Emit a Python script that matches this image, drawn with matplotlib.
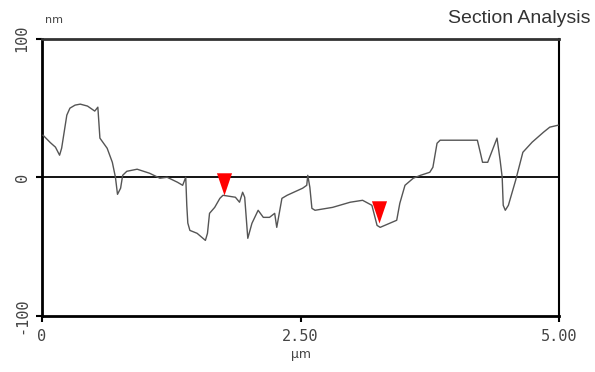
import matplotlib
matplotlib.use("Agg")
import matplotlib.pyplot as plt

# section profile (µm, nm)
pos_um = [0.01, 0.08, 0.13, 0.17, 0.19, 0.24, 0.27, 0.32, 0.37, 0.44, 0.51, 0.54,
          0.56, 0.63, 0.68, 0.71, 0.73, 0.76, 0.78, 0.82, 0.92, 1.04, 1.14, 1.21,
          1.31, 1.36, 1.39, 1.40, 1.41, 1.43, 1.50, 1.58, 1.60, 1.62, 1.67, 1.72,
          1.75, 1.87, 1.91, 1.94, 1.96, 1.99, 2.03, 2.09, 2.14, 2.20, 2.25, 2.27,
          2.32, 2.37, 2.52, 2.56, 2.57, 2.59, 2.61, 2.64, 2.81, 2.98, 3.10, 3.19,
          3.24, 3.27, 3.43, 3.46, 3.51, 3.59, 3.66, 3.75, 3.78, 3.82, 3.85, 4.21,
          4.24, 4.26, 4.31, 4.40, 4.43, 4.45, 4.46, 4.48, 4.51, 4.58, 4.65, 4.74,
          4.85, 4.91, 4.99]
height_nm = [30.3, 25.0, 21.7, 15.9, 21.0, 44.8, 49.8, 52.0, 52.7, 51.3, 47.7, 50.5,
             28.2, 20.9, 10.8, 0.0, -12.3, -7.9, 1.4, 4.3, 5.8, 2.9, -0.7, 0.0,
             -3.6, -5.8, 0.0, -20.2, -33.0, -38.3, -40.4, -45.5, -40.4, -26.0, -21.7, -15.2,
             -13.0, -14.4, -18.0, -10.8, -14.4, -44.0, -33.2, -23.8, -28.9, -28.9, -26.0, -36.1,
             -15.2, -13.0, -7.9, -5.8, 1.4, -7.2, -22.4, -23.8, -21.7, -18.0, -16.6, -20.2,
             -34.7, -36.1, -31.0, -18.8, -5.8, -0.7, 1.4, 3.6, 7.2, 24.5, 26.7, 26.7,
             17.3, 10.8, 10.8, 28.2, 12.3, 0.0, -20.2, -23.8, -20.2, -2.2, 18.0, 25.3,
             32.5, 36.1, 37.5]

# cursor markers (tip sits on the profile)
cursor_um = [1.76, 3.26]
cursor_nm = [-13.0, -33.0]

x_ticks = [0, 2.5, 5.0]
x_labels = ["0", "2.50", "5.00"]
y_ticks = [-100, 0, 100]
y_labels = ["-100", "0", "100"]

fig = plt.figure(figsize=(5.95, 3.72), dpi=100, facecolor="white")
ax = fig.add_axes([0.0706, 0.1505, 0.869, 0.746])

ax.plot(pos_um, height_nm, color="#555555", linewidth=1.0, zorder=3)
ax.axhline(0, color="black", linewidth=1.3, zorder=2)

tip_down = [(0, 0), (-0.34, 1), (0.34, 1)]
ax.plot(cursor_um, cursor_nm, linestyle="none", marker=tip_down, markersize=32,
        color="red", markeredgewidth=0, zorder=4)

ax.set_xlim(0, 5)
ax.set_ylim(-100, 100)

ax.set_xticks(x_ticks)
ax.set_xticklabels(x_labels, family="DejaVu Sans Mono", fontsize=11, color="#444444")
ax.set_yticks(y_ticks)
ax.set_yticklabels(y_labels, family="DejaVu Sans Mono", fontsize=11, color="#444444",
                   rotation=90, va="center")
ax.tick_params(axis="both", direction="out", length=4, width=1.5, color="black", pad=5)

for side in ["left", "bottom"]:
    ax.spines[side].set_linewidth(2)
    ax.spines[side].set_color("black")
ax.spines["top"].set_linewidth(2)
ax.spines["top"].set_color("#333333")
ax.spines["right"].set_linewidth(1.5)
ax.spines["right"].set_color("black")

ax.set_xlabel("µm", fontsize=9, color="#444444", labelpad=3)
fig.text(0.076, 0.945, "nm", fontsize=8, color="#444444", ha="left", va="center")
fig.text(0.992, 0.95, "Section Analysis", family="Liberation Sans", fontsize=14,
         color="#333333", ha="right", va="center")

plt.savefig("out.png", dpi=100, facecolor=fig.get_facecolor())
plt.close()
